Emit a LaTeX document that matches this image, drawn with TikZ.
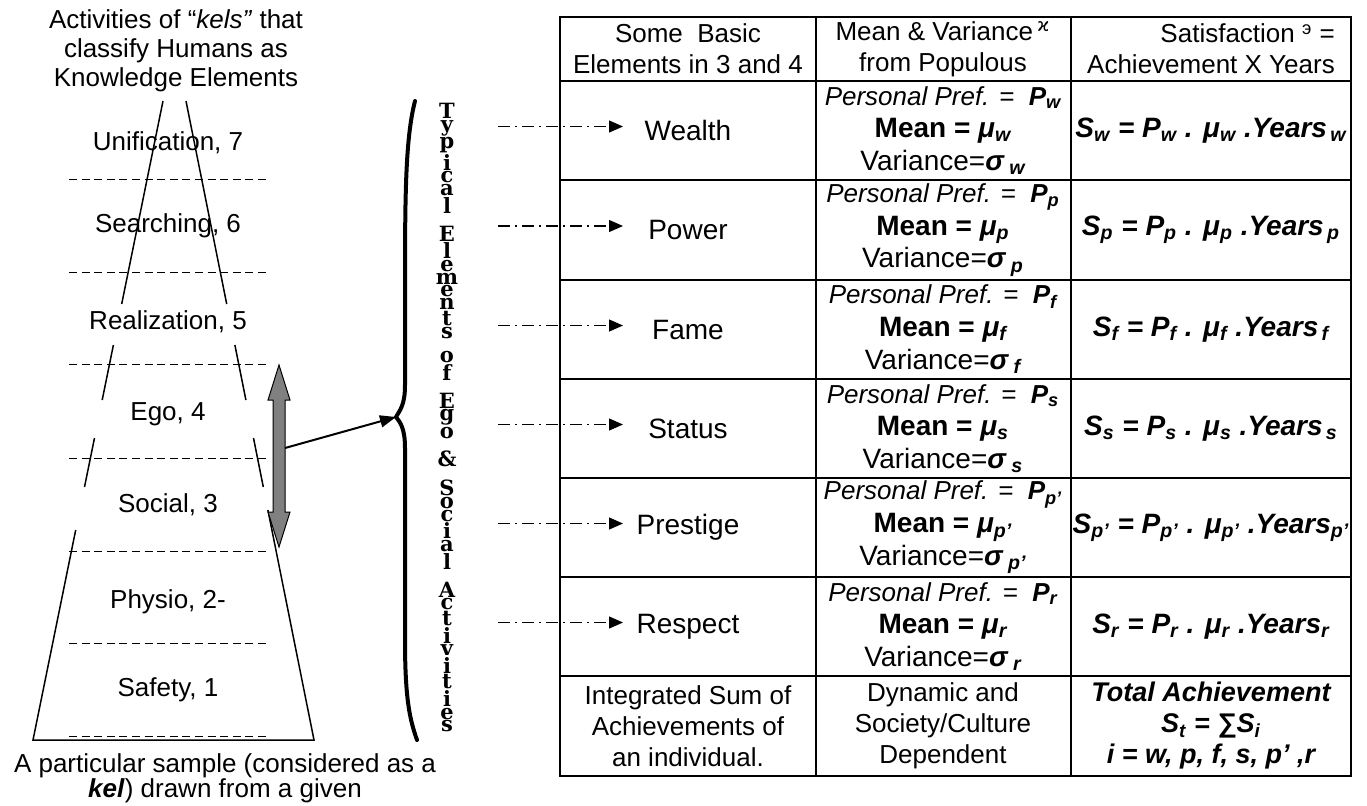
\documentclass[tikz,border=0pt]{standalone}
\usepackage{fontspec}
\setmainfont{Liberation Sans}
\newfontfamily\slabfont{DejaVu Serif}
\newfontfamily\symbfont{DejaVu Sans}
\usetikzlibrary{positioning,arrows.meta}

\newcommand{\lowidx}[1]{\textsubscript{#1}}
\newcommand{\vgap}{\rule{0pt}{5pt}}

\tikzset{
  txt/.style={font=\fontsize{13}{14.5}\selectfont, align=center, inner sep=0pt},
  side/.style={line width=0.75pt},
  layer/.style={line width=0.5pt, dash pattern=on 4pt off 2.3pt},
  grid/.style={line width=1pt},
  cell/.style={font=\fontsize{13}{15.5}\selectfont, align=center, inner sep=0pt},
  elem/.style={font=\fontsize{14}{16}\selectfont, inner sep=0pt},
  formula/.style={font=\fontsize{14}{16}\selectfont\bfseries\itshape, inner sep=0pt},
  rowarrow/.style={line width=0.6pt, dash pattern=on 6pt off 2.5pt on 1pt off 2.5pt,
    -{Triangle[length=7pt,width=6pt]}},
  ptr/.style={line width=1pt, -{Triangle[length=8pt,width=6pt]}},
  brace/.style={line width=2pt, line cap=round},
  vchar/.style={font={\slabfont\bfseries\fontsize{10.5}{11}\selectfont}, inner sep=0pt},
}

\begin{document}
\begin{tikzpicture}[x=0.5pt,y=-0.5pt]
  \useasboundingbox (0,0) rectangle (1367,805);
  % pyramid of the kels
  \node[txt] (title) at (176,51) {Activities of “\textit{kels”} that\\classify Humans as\\Knowledge Elements};
  \node[txt, font=\fontsize{13}{12.5}\selectfont] (caption) at (225,778)
    {A particular sample (considered as a\\\textbf{\textit{kel}}) drawn from a given};
  \draw[side] (163,101) -- (121.7,304);
  \draw[side] (113.4,345) -- (102.2,400);
  \draw[side] (94.5,438) -- (84.5,487);
  \draw[side] (75.7,530) -- (33,740) -- (314,740) -- (267.9,510);
  \draw[side] (186,101) -- (226.7,304);
  \draw[side] (234.9,345) -- (245.9,400);
  \draw[side] (253.5,438) -- (263.3,487);
  \foreach \y in {179,272,364,458,551,643,736}
    \draw[layer] (69,\y) -- (268,\y);
  \foreach \txt/\y [count=\i] in {{Unification, 7}/143, {Searching, 6}/226, {Realization, 5}/322,
      {Ego, 4}/414, {Social, 3}/505, {Physio, 2-}/602, {Safety, 1}/690}
    \node[txt] (lvl-\i) at (168,\y) {\txt};

  % grey double arrow over levels 3 and 4
  \draw[fill=gray, line width=0.5pt] (279,365) -- (290,400) -- (285,400) -- (285,512) -- (290,512)
    -- (279,547) -- (268,512) -- (273,512) -- (273,400) -- (268,400) -- cycle;
  \coordinate (shaft) at (285,448);
  \coordinate (brace-tip) at (396,417);
  \draw[ptr] (shaft) -- (brace-tip);
  \draw[brace] (415,101) .. controls (405,140) and (405,200) .. (405,300) -- (405,385)
    .. controls (405,405) and (400,410) .. (brace-tip)
    .. controls (400,422) and (405,428) .. (405,448) -- (405,640)
    .. controls (405,700) and (410,720) .. (417,740);

  % stacked letters
  \node[vchar, anchor=north] (vt-0) at (447,103) {T};
  \foreach \ch [count=\k] in {y,p,i,c,a,l,\vgap,E,l,e,m,e,n,t,s,\vgap,o,f,\vgap,E,g,o,\vgap,\&,\vgap,
      S,o,c,i,a,l,\vgap,A,c,t,i,v,i,t,i,e,s} {
    \pgfmathtruncatemacro\j{\k-1}
    \node[vchar, below=0.3pt of vt-\j] (vt-\k) {\ch};
  }

  % table
  \draw[grid] (560,17) rectangle (1351,776);
  \foreach \y in {81,180,280,379,478,577,676}
    \draw[grid] (560,\y) -- (1351,\y);
  \foreach \x in {816,1071}
    \draw[grid] (\x,17) -- (\x,776);
  \node[cell] (hd-1) at (688,49) {Some~~Basic\\Elements in 3 and 4};
  \node[cell] (hd-2) at (943,49) {Mean \& Variance\,\textsuperscript{\symbfont ϰ}\\from Populous};
  \node[cell, align=right] (hd-3) at (1211,49) {Satisfaction \textsuperscript{э} =\\Achievement X Years};
  \foreach \name/\k/\c/\yr [count=\i] in {Wealth/w/130.5/{\,w}, Power/p/230/{\,p}, Fame/f/329.5/{\,f},
      Status/s/428.5/{\,s}, Prestige/p’/527.5/p’, Respect/r/626.5/r} {
    \node[elem] (el-\i) at (688,\c) {\name};
    \coordinate (tail-\i) at (498,\c-4);
    \coordinate (tip-\i) at (623,\c-4);
    \draw[rowarrow] (tail-\i) -- (tip-\i);
    \node[cell] (pref-\i) at (943,\c-33) {\textit{Personal Pref. =~~\textbf{P\lowidx{\k}}}};
    \node[cell, font=\fontsize{14}{16}\selectfont] (mean-\i) at (943,\c) {\textbf{Mean = \textit{μ\lowidx{\k}}}};
    \node[cell, font=\fontsize{14}{16}\selectfont] (var-\i) at (943,\c+32) {Variance=\textbf{\textit{σ\lowidx{\ \k}}}};
    \node[formula] (sat-\i) at (1211,\c) {S\lowidx{\k} = P\lowidx{\k} . μ\lowidx{\k} .Years\lowidx{\yr}};
  }
  \node[cell] (sum-1) at (688,726) {Integrated Sum of\\Achievements of\\an individual.};
  \node[cell] (sum-2) at (943,726) {Dynamic and\\Society/Culture\\Dependent};
  \node[cell, font=\fontsize{13.5}{15.5}\selectfont\bfseries\itshape] (sum-3) at (1211,726)
    {Total Achievement\\S\lowidx{t} = ∑S\lowidx{i}\\i = w, p, f, s, p’ ,r};
\end{tikzpicture}
\end{document}
